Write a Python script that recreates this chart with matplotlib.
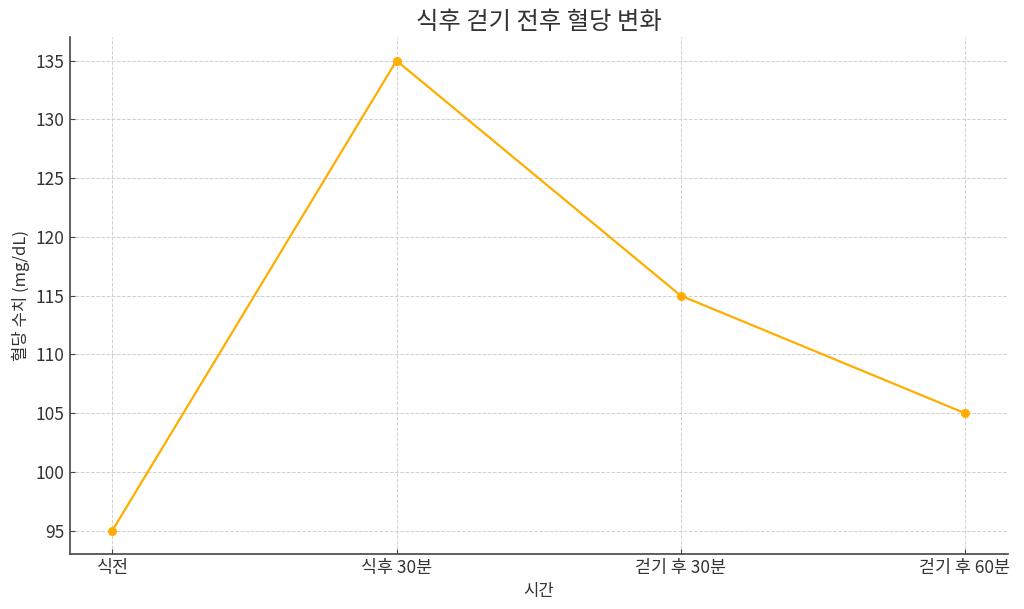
import matplotlib
matplotlib.use('Agg')
import matplotlib.pyplot as plt

plt.rcParams['font.family'] = ['Noto Sans CJK KR', 'DejaVu Sans']
plt.rcParams['axes.unicode_minus'] = False

# 데이터
times = ['식전', '식후 30분', '걷기 후 30분', '걷기 후 60분']
glucose = [95, 135, 115, 105]

fig, ax = plt.subplots(figsize=(10.24, 6.09), dpi=100)
fig.subplots_adjust(left=0.068, right=0.984, top=0.939, bottom=0.09)

ax.plot(times, glucose, marker='o', color='#ffae00', linewidth=1.6, markersize=5.5)

ax.set_title('식후 걷기 전후 혈당 변화', fontsize=17.5, color='#333333')
ax.set_xlabel('시간', fontsize=12, color='#333333')
ax.set_ylabel('혈당 수치 (mg/dL)', fontsize=12, color='#333333')

ax.grid(True, linestyle='--', color='#d0d0d0', linewidth=0.7)
for side in ['top', 'right']:
    ax.spines[side].set_visible(False)
for side in ['left', 'bottom']:
    ax.spines[side].set_color('#444444')
    ax.spines[side].set_linewidth(1.2)
ax.tick_params(direction='in', labelsize=12.5, colors='#444444', labelcolor='#333333')

fig.savefig('out.png', dpi=100)
